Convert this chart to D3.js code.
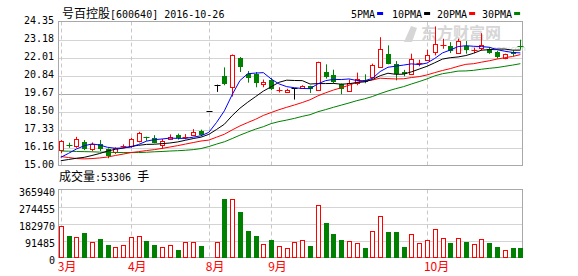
<!DOCTYPE html>
<html>
<head>
<meta charset="utf-8">
<script src="https://cdn.jsdelivr.net/npm/d3@7"></script>
<style>
  body { margin: 0; background: #fff; }
  svg { display: block; }
</style>
</head>
<body>
<script>
const width = 578;
const height = 276;
const monoFont = "'DejaVu Sans Mono', 'Liberation Mono', monospace";
const cjkFont = "'Noto Sans CJK SC', sans-serif";

// 号百控股 daily bars, 60 sessions
const open = [15.98,16.34,16.28,16.54,16.07,16.41,16.05,15.84,16.25,16.22,16.54,16.87,16.80,16.33,16.70,16.97,16.83,16.97,17.22,18.53,20.25,20.79,20.10,22.00,20.97,20.92,20.32,20.58,19.90,19.82,20.03,20.02,20.14,19.93,21.05,20.86,20.27,19.84,20.36,20.58,20.71,21.44,22.26,21.61,21.05,20.97,21.64,21.87,22.36,22.83,22.73,22.30,22.73,22.46,22.65,22.58,22.36,21.94,22.34,22.81];
const high = [16.65,16.48,16.86,16.65,16.50,16.65,16.11,16.18,16.37,16.80,17.19,16.87,16.97,16.72,17.02,17.07,17.04,17.36,17.33,18.53,20.25,21.37,22.21,22.04,21.13,21.07,20.58,20.69,20.08,19.98,20.03,20.21,20.18,21.74,21.57,21.22,20.32,20.58,21.03,20.92,21.61,23.33,22.80,21.78,21.21,22.26,21.87,22.52,24.03,23.23,23.01,23.23,23.08,22.65,23.59,22.69,22.44,22.26,22.47,23.17];
const low = [15.79,16.15,16.15,16.00,15.94,15.94,15.47,15.75,16.15,16.15,16.50,16.60,16.44,16.07,16.65,16.68,16.70,16.91,16.91,18.53,19.78,20.21,19.48,21.07,20.38,20.08,20.08,19.89,19.74,19.79,19.28,19.98,19.71,19.89,20.64,20.32,19.63,19.80,20.21,20.34,20.64,21.39,21.57,20.53,20.79,20.92,21.44,21.83,22.15,22.58,22.30,22.26,22.26,22.30,22.47,22.25,21.94,21.90,22.09,22.52];
const close = [16.59,16.32,16.71,16.07,16.41,16.09,15.57,16.13,16.27,16.70,17.08,16.86,16.50,16.59,16.86,16.76,16.85,17.19,16.97,18.53,20.25,20.27,22.16,21.39,20.73,20.35,20.45,19.99,19.92,19.93,20.03,20.14,19.93,21.72,20.75,20.42,19.93,20.36,20.64,20.42,21.50,22.58,21.61,20.97,20.89,21.94,21.66,22.20,22.91,22.85,22.43,23.08,22.47,22.48,22.84,22.30,22.04,22.22,22.22,22.79];
const volume = [168600,115000,108000,133000,82500,98700,66000,54000,64600,108000,118000,88000,66000,54000,64600,39500,86000,82500,61000,5000,86000,314000,317500,244000,143500,115000,72000,93000,61000,50000,82500,93000,61000,282000,186600,125600,93000,88000,77000,50000,141700,222000,138000,138000,57000,125600,77000,93000,152500,104000,79000,104000,84000,72000,98700,79000,57000,39500,50000,53306];

const ma5 = [15.53,15.79,16.07,16.28,16.40,16.33,16.18,16.12,16.14,16.20,16.37,16.58,16.68,16.72,16.78,16.76,16.76,16.84,16.93,17.15,17.80,18.55,19.60,20.52,20.96,21.00,21.03,20.62,20.30,20.12,20.05,20.00,19.99,20.30,20.51,20.59,20.58,20.62,20.52,20.50,20.66,21.10,21.38,21.45,21.52,21.60,21.55,21.65,21.95,22.31,22.50,22.72,22.78,22.74,22.72,22.68,22.52,22.42,22.34,22.31];
const ma10 = [15.31,15.39,15.47,15.53,15.65,15.78,15.94,16.05,16.13,16.24,16.31,16.37,16.38,16.42,16.46,16.53,16.64,16.75,16.84,17.02,17.34,17.68,18.24,18.72,19.11,19.47,19.83,20.11,20.40,20.54,20.52,20.51,20.29,20.32,20.32,20.33,20.28,20.31,20.39,20.43,20.58,20.83,20.99,20.92,20.93,21.08,21.26,21.44,21.67,21.91,22.00,22.05,22.14,22.29,22.49,22.52,22.56,22.56,22.49,22.49];
const ma20 = [15.58,15.52,15.45,15.43,15.45,15.49,15.55,15.65,15.74,15.84,15.90,15.97,16.03,16.11,16.20,16.29,16.39,16.49,16.59,16.65,16.84,17.03,17.31,17.57,17.79,18.00,18.25,18.44,18.62,18.78,18.93,19.09,19.27,19.52,19.72,19.90,20.05,20.21,20.40,20.49,20.55,20.67,20.64,20.62,20.63,20.71,20.77,20.88,21.03,21.17,21.29,21.44,21.57,21.61,21.71,21.80,21.91,22.00,22.08,22.20];
const ma30 = [15.94,15.93,15.91,15.90,15.89,15.87,15.86,15.85,15.84,15.84,15.84,15.86,15.89,15.91,15.94,15.96,15.99,16.03,16.10,16.23,16.39,16.54,16.75,16.97,17.17,17.36,17.52,17.72,17.85,17.95,18.06,18.19,18.30,18.49,18.63,18.78,18.92,19.06,19.21,19.33,19.48,19.67,19.84,19.99,20.12,20.29,20.45,20.62,20.82,20.96,21.04,21.13,21.14,21.18,21.25,21.31,21.36,21.44,21.52,21.61];

const priceTicks = [15.00, 16.16, 17.33, 18.50, 19.67, 20.84, 22.01, 23.18, 24.35];
const volumeTicks = [0, 91485, 182970, 274455, 365940];
const monthStarts = [0, 9, 19, 27, 47];
const monthLabels = ["3月", "4月", "8月", "9月", "10月"];
const maNames = ["5PMA", "10PMA", "20PMA", "30PMA"];
const maColors = ["#0000ff", "#000000", "#ff0000", "#008000"];

const RED = "#ff0000";
const GREEN = "#008000";
const plotLeft = 58.5;
const plotRight = 522.5;

const svg = d3.select("body").append("svg")
  .attr("width", width)
  .attr("height", height)
  .attr("viewBox", `0 0 ${width} ${height}`);

const x = d3.scaleBand().domain(d3.range(close.length)).range([56.9, 524.3]);
const cx = (i) => x(i) + x.bandwidth() / 2;
const y = d3.scaleLinear().domain([15, 24.35]).range([165.5, 21.5]);
const yv = d3.scaleLinear().domain([0, 365940]).range([257.5, 189.5]);

function candleColor(i) {
  if (close[i] > open[i]) return RED;
  if (close[i] < open[i]) return GREEN;
  return "#000";
}

function drawFrames() {
  const g = svg.append("g");
  // horizontal grid in price panel
  g.selectAll(".pgrid")
    .data(priceTicks.slice(1, -1))
    .enter()
    .append("line")
    .attr("x1", plotLeft).attr("x2", plotRight)
    .attr("y1", (d) => Math.round(y(d)) + 0.5)
    .attr("y2", (d) => Math.round(y(d)) + 0.5)
    .attr("stroke", (d) => (d === 19.67 ? "#a8a8a8" : "#d4d4d4"));
  g.selectAll(".vgrid")
    .data(volumeTicks.slice(1, -1))
    .enter()
    .append("line")
    .attr("x1", plotLeft).attr("x2", plotRight)
    .attr("y1", (d) => Math.round(yv(d)) + 0.5)
    .attr("y2", (d) => Math.round(yv(d)) + 0.5)
    .attr("stroke", "#d4d4d4");

  // month separators, dashed
  monthStarts.forEach((m) => {
    const xm = Math.round(cx(m)) + 0.5;
    [[21.5, 165.5], [189.5, 257.5]].forEach(([a, b]) => {
      g.append("line")
        .attr("x1", xm).attr("x2", xm).attr("y1", a).attr("y2", b)
        .attr("stroke", "#c8c8c8")
        .attr("stroke-dasharray", "4,3");
    });
  });

  [[21.5, 165.5], [189.5, 257.5]].forEach(([a, b]) => {
    g.append("rect")
      .attr("x", plotLeft).attr("y", a)
      .attr("width", plotRight - plotLeft).attr("height", b - a)
      .attr("fill", "none")
      .attr("stroke", "#a8a8a8");
  });
}

function drawWatermark() {
  const g = svg.append("g").attr("fill", "#d6d6d6");
  g.append("text")
    .attr("x", 421).attr("y", 39)
    .attr("font-family", cjkFont)
    .attr("font-weight", "bold")
    .attr("font-size", "16px")
    .text("东方财富网");
  g.append("text")
    .attr("x", 452).attr("y", 51)
    .attr("font-family", "'DejaVu Sans', sans-serif")
    .attr("font-size", "7px")
    .text("www.eastmoney.com");
  g.append("path")
    .attr("d", "M404,42 L411,26 L417,28 L412,42 Z");
}

function drawAxes() {
  svg.append("g")
    .selectAll("text")
    .data(priceTicks)
    .enter()
    .append("text")
    .attr("x", 54)
    .attr("y", (d) => y(d) - 1.5)
    .attr("dy", "0.35em")
    .attr("text-anchor", "end")
    .attr("font-family", monoFont)
    .attr("font-size", "10px")
    .text((d) => d.toFixed(2));

  svg.append("g")
    .selectAll("text")
    .data(volumeTicks)
    .enter()
    .append("text")
    .attr("x", 55)
    .attr("y", (d) => yv(d) + 3)
    .attr("dy", "0.35em")
    .attr("text-anchor", "end")
    .attr("font-family", monoFont)
    .attr("font-size", "10px")
    .text((d) => d);

  svg.append("g")
    .selectAll("text")
    .data(monthStarts)
    .enter()
    .append("text")
    .attr("x", (d) => cx(d) - 3)
    .attr("y", 271)
    .attr("fill", RED)
    .attr("font-family", cjkFont)
    .attr("font-size", "12px")
    .text((d, i) => monthLabels[i]);
}

function drawTitles() {
  const t = svg.append("text").attr("x", 62).attr("y", 18);
  t.append("tspan").attr("font-family", cjkFont).attr("font-size", "12px").text("号百控股");
  t.append("tspan").attr("font-family", monoFont).attr("font-size", "10px").text("[600640] 2016-10-26");

  const v = svg.append("text").attr("x", 59).attr("y", 181);
  v.append("tspan").attr("font-family", cjkFont).attr("font-size", "12px").text("成交量");
  v.append("tspan").attr("font-family", monoFont).attr("font-size", "10px").text(":" + volume[volume.length - 1] + " ");
  v.append("tspan").attr("font-family", cjkFont).attr("font-size", "12px").text("手");

  // legend
  const legendX = [351, 392, 437, 482];
  maNames.forEach((name, i) => {
    const txt = svg.append("text")
      .attr("x", legendX[i]).attr("y", 17.5)
      .attr("font-family", monoFont)
      .attr("font-size", "10px")
      .text(name);
    const w = txt.node().getComputedTextLength();
    svg.append("rect")
      .attr("x", legendX[i] + w + 2).attr("y", 12)
      .attr("width", 6).attr("height", 3)
      .attr("fill", maColors[i]);
  });
}

function drawCandles() {
  const g = svg.append("g");
  close.forEach((c, i) => {
    const o = open[i];
    const col = candleColor(i);
    const xc = Math.round(cx(i)) + 0.5;
    const yTop = y(Math.max(o, c));
    const yBot = y(Math.min(o, c));
    if (yBot - yTop < 1.5) {
      g.append("line").attr("x1", xc).attr("x2", xc)
        .attr("y1", y(high[i])).attr("y2", y(low[i])).attr("stroke", col);
      g.append("line").attr("x1", xc - 3).attr("x2", xc + 3)
        .attr("y1", Math.round(y(c)) + 0.5).attr("y2", Math.round(y(c)) + 0.5)
        .attr("stroke", col);
      return;
    }
    g.append("line").attr("x1", xc).attr("x2", xc)
      .attr("y1", y(high[i])).attr("y2", y(low[i])).attr("stroke", col);
    if (col === RED) {
      g.append("rect")
        .attr("x", xc - 2).attr("y", Math.round(yTop) + 0.5)
        .attr("width", 4).attr("height", Math.max(1, Math.round(yBot - yTop)))
        .attr("fill", "#fff").attr("stroke", RED);
    } else {
      g.append("rect")
        .attr("x", xc - 2.5).attr("y", Math.round(yTop))
        .attr("width", 5).attr("height", Math.max(1, Math.round(yBot - yTop)))
        .attr("fill", col);
    }
  });
}

function drawAverages() {
  const line = d3.line().x((d, i) => cx(i)).y((d) => y(d));
  [ma30, ma20, ma10, ma5].forEach((series, k) => {
    svg.append("path")
      .datum(series)
      .attr("d", line)
      .attr("fill", "none")
      .attr("stroke", maColors[3 - k])
      .attr("stroke-width", 1);
  });
}

function drawVolume() {
  const g = svg.append("g");
  volume.forEach((v, i) => {
    const up = close[i] >= open[i];
    const xc = Math.round(cx(i)) + 0.5;
    const top = Math.round(yv(v));
    const h = Math.max(1, Math.round(yv(0)) - top);
    if (up) {
      g.append("rect")
        .attr("x", xc - 2).attr("y", top + 0.5)
        .attr("width", 4).attr("height", h - 1)
        .attr("fill", "#fff").attr("stroke", RED);
    } else {
      g.append("rect")
        .attr("x", xc - 2.5).attr("y", top)
        .attr("width", 5).attr("height", h)
        .attr("fill", GREEN);
    }
  });
}

drawFrames();
drawWatermark();
drawAxes();
drawTitles();
drawCandles();
drawAverages();
drawVolume();
</script>
</body>
</html>
